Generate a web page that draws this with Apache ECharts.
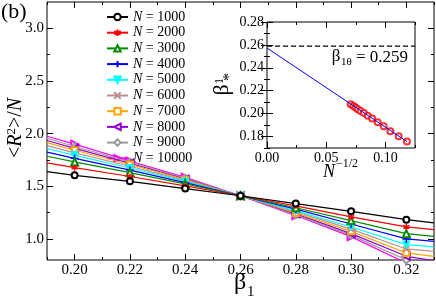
<!DOCTYPE html>
<html><head><meta charset="utf-8">
<script src="https://cdn.jsdelivr.net/npm/echarts@6/dist/echarts.min.js"></script>
<style>html,body{margin:0;padding:0;background:#fff}#c{width:436px;height:303px}</style>
</head><body><div id="c"></div>
<script>
// ---- data ----
const betaX = [0.20, 0.22, 0.24, 0.26, 0.28, 0.30, 0.32];
const seriesN = ['1000','2000','3000','4000','5000','6000','7000','8000','9000','10000'];
const v1000  = [1.604, 1.547, 1.478, 1.410, 1.336, 1.262, 1.183];
const v2000  = [1.677, 1.593, 1.504, 1.410, 1.314, 1.209, 1.114];
const v3000  = [1.731, 1.630, 1.523, 1.410, 1.296, 1.174, 1.050];
const v4000  = [1.765, 1.653, 1.535, 1.410, 1.283, 1.142, 1.000];
const v5000  = [1.794, 1.674, 1.546, 1.410, 1.267, 1.113, 0.946];
const v6000  = [1.818, 1.690, 1.554, 1.410, 1.258, 1.093, 0.905];
const v7000  = [1.842, 1.707, 1.563, 1.410, 1.247, 1.072, 0.867];
const v8000  = [1.860, 1.719, 1.569, 1.410, 1.239, 1.050, 0.835];
const v9000  = [1.878, 1.731, 1.576, 1.410, 1.229, 1.036, 0.800];
const v10000 = [1.900, 1.740, 1.585, 1.410, 1.222, 1.022, 0.770];
// extended fit-line ends at the plot edges
const fitStartX = 0.19, fitEndX = 0.33;
const fitStart = [1.639, 1.722, 1.785, 1.825, 1.859, 1.886, 1.914, 1.935, 1.956, 1.975];
const fitEnd   = [1.152, 1.088, 1.025, 0.977, 0.924, 0.882, 0.835, 0.795, 0.750, 0.710];
// inset
const insetX = [0.0706, 0.0729, 0.0748, 0.0767, 0.0790, 0.0818, 0.0851, 0.0888, 0.0935, 0.0986, 0.1042, 0.1112, 0.1182];
const insetY = [0.2082, 0.2067, 0.2053, 0.2038, 0.2023, 0.2005, 0.1982, 0.1958, 0.1925, 0.1890, 0.1846, 0.1802, 0.1756];
const fitLineX = [0.0, 0.1182];
const fitLineY = [0.2573, 0.1756];
const beta1Theta = 0.259;
// ticks
const mainXMajor = [0.20, 0.22, 0.24, 0.26, 0.28, 0.30, 0.32];
const mainXMinor = [0.19, 0.21, 0.23, 0.25, 0.27, 0.29, 0.31, 0.33];
const mainYMajor = [1.0, 1.5, 2.0, 2.5, 3.0];
const mainYMinor = [1.25, 1.75, 2.25, 2.75];
const insXMajor = [0.00, 0.05, 0.10];
const insXMinor = [0.025, 0.075, 0.125];
const insYMajor = [0.18, 0.20, 0.22, 0.24, 0.26, 0.28];
const insYMinor = [0.17, 0.19, 0.21, 0.23, 0.25, 0.27];

const allVals = [v1000, v2000, v3000, v4000, v5000, v6000, v7000, v8000, v9000, v10000];
const colors = ['#000000', '#ff0000', '#008b00', '#0000ff', '#00ffff', '#bc8f8f', '#ffa500', '#9400d3', '#999999', '#ff00ff'];
const symbols = [
  {s:'emptyCircle', r:0, sz:6},
  {s:'path://M5,0L5,10M0.67,2.5L9.33,7.5M0.67,7.5L9.33,2.5', r:0, sz:6, stroke:true},
  {s:'emptyTriangle', r:0, sz:7},
  {s:'path://M5,0L5,10M0,5L10,5', r:0, sz:8, stroke:true},
  {s:'triangle', r:180, sz:7},
  {s:'path://M0,0L10,10M0,10L10,0', r:0, sz:6, stroke:true},
  {s:'emptyRect', r:0, sz:6},
  {s:'emptyTriangle', r:90, sz:7},
  {s:'emptyDiamond', r:0, sz:7},
  {s:'emptyTriangle', r:-90, sz:7}
];

const FONT = '"Liberation Serif", "DejaVu Serif", serif';

function axesPair(pos, grid, min, max, major, minor, labels, fmt, labelSize) {
  const common = {type:'value', gridIndex:grid, min:min, max:max, position:pos, splitLine:{show:false},
    axisLine:{show:false}};
  const a = Object.assign({}, common, {
    axisTick:{show:true, inside:true, length:6, customValues:major, lineStyle:{color:'#000', width:1}},
    axisLabel:{show:labels, customValues:major, formatter:fmt, fontFamily:FONT, fontSize:labelSize, color:'#000', margin:3}
  });
  const b = Object.assign({}, common, {
    axisTick:{show:true, inside:true, length:3, customValues:minor, lineStyle:{color:'#000', width:1}},
    axisLabel:{show:false}
  });
  return [a, b];
}

const xAxes = [].concat(
  axesPair('bottom',0,0.19,0.33,mainXMajor,mainXMinor,true,v=>v.toFixed(2),15),
  axesPair('top',0,0.19,0.33,mainXMajor,mainXMinor,false,null,15),
  axesPair('bottom',1,0,0.125,insXMajor,insXMinor,true,v=>v.toFixed(2),14),
  axesPair('top',1,0,0.125,insXMajor,insXMinor,false,null,14)
);
const yAxes = [].concat(
  axesPair('left',0,0.8,3.25,mainYMajor,mainYMinor,true,v=>v.toFixed(1),15),
  axesPair('right',0,0.8,3.25,mainYMajor,mainYMinor,false,null,15),
  axesPair('left',1,0.17,0.28,insYMajor,insYMinor,true,v=>v.toFixed(2),14),
  axesPair('right',1,0.17,0.28,insYMajor,insYMinor,false,null,14)
);

const series = allVals.map((vals, i) => {
  const sy = symbols[i];
  const data = [{value:[fitStartX, fitStart[i]], symbol:'none'}]
    .concat(betaX.map((x, j) => [x, vals[j]]))
    .concat([{value:[fitEndX, fitEnd[i]], symbol:'none'}]);
  const itemStyle = sy.stroke ? {color:colors[i], borderColor:colors[i], borderWidth:1.4}
                              : {color:colors[i], borderColor:colors[i], borderWidth:1.1};
  return {
    name:'N = ' + seriesN[i], type:'line', xAxisIndex:0, yAxisIndex:0,
    data:data, symbol:sy.s, symbolRotate:sy.r, symbolSize:sy.sz, showAllSymbol:true,
    lineStyle:{color:colors[i], width:1.2}, itemStyle:itemStyle, z:12 - i * 0.1,
    animation:false, clip:true
  };
});

series.push({
  name:'fit', type:'line', xAxisIndex:4, yAxisIndex:4, symbol:'none',
  data:fitLineX.map((x, j) => [x, fitLineY[j]]), lineStyle:{color:'#0000ff', width:1}, animation:false
});
series.push({
  name:'theta', type:'line', xAxisIndex:4, yAxisIndex:4, symbol:'none',
  data:[[0, beta1Theta], [0.125, beta1Theta]], lineStyle:{color:'#000', width:1.3, type:[5,3]}, animation:false
});
series.push({
  name:'beta1star', type:'scatter', xAxisIndex:4, yAxisIndex:4, symbol:'emptyCircle', symbolSize:6,
  data:insetX.map((x, j) => [x, insetY[j]]), itemStyle:{color:'#ff0000', borderColor:'#ff0000', borderWidth:1}, animation:false
});

const chart = echarts.init(document.getElementById('c'), null, {renderer:'canvas'});
chart.setOption({
  animation:false,
  backgroundColor:'#fff',
  grid:[
    {left:47, right:2, top:2, bottom:43, show:true, borderColor:'#000', borderWidth:1, backgroundColor:'transparent'},
    {left:267, top:22, width:148, height:126, show:true, borderColor:'#000', borderWidth:1, backgroundColor:'#fff'}
  ],
  xAxis:xAxes,
  yAxis:yAxes,
  legend:{
    data:seriesN.map(n => 'N = ' + n), orient:'vertical', left:106, top:10,
    itemWidth:21, itemHeight:8, itemGap:1.7, padding:0,
    formatter: name => '{i|N} = ' + name.split('= ')[1],
    textStyle:{fontFamily:FONT, fontSize:14, color:'#000', lineHeight:12,
      rich:{i:{fontStyle:'italic', fontFamily:FONT, fontSize:14, lineHeight:12}}}
  },
  graphic:[
    {type:'text', left:1, top:1, style:{text:'(b)', font:'22px ' + FONT, fill:'#000'}},
    {type:'text', x:16, y:128, rotation:Math.PI/2, style:{text:'<{i|R}{s|2}>/{i|N}', fontFamily:FONT, fontSize:20, fill:'#000', align:'center', verticalAlign:'middle',
      rich:{i:{fontStyle:'italic', fontFamily:FONT, fontSize:20}, s:{fontFamily:FONT, fontSize:13, verticalAlign:'top', padding:[0,0,8,0]}}}},
    {type:'text', x:240, y:283, style:{text:'β', font:'24px ' + FONT, fill:'#000', align:'center', verticalAlign:'middle'}},
    {type:'text', x:247, y:292, style:{text:'1', font:'15px ' + FONT, fill:'#000', align:'left', verticalAlign:'middle'}},
    {type:'text', x:329, y:172, style:{text:'N', font:'italic 18px ' + FONT, fill:'#000', align:'center', verticalAlign:'middle'}},
    {type:'text', x:336, y:164, style:{text:'−1/2', font:'12px ' + FONT, fill:'#000', align:'left', verticalAlign:'middle'}},
    {type:'text', x:336, y:57, style:{text:'β', font:'17px ' + FONT, fill:'#000', align:'center', verticalAlign:'middle'}},
    {type:'text', x:341, y:62, style:{text:'1θ', font:'11px ' + FONT, fill:'#000', align:'left', verticalAlign:'middle'}},
    {type:'text', x:356, y:58, style:{text:'= 0.259', font:'17px ' + FONT, fill:'#000', align:'left', verticalAlign:'middle'}},
    {type:'group', x:222.5, y:90, rotation:Math.PI/2, children:[
      {type:'text', x:0, y:0, style:{text:'β', font:'22px ' + FONT, fill:'#000', align:'center', verticalAlign:'middle'}},
      {type:'text', x:6, y:-3, style:{text:'1', font:'12px ' + FONT, fill:'#000', align:'left', verticalAlign:'middle'}},
      {type:'text', x:9, y:7, style:{text:'*', font:'16px ' + FONT, fill:'#000', align:'left', verticalAlign:'middle'}}
    ]}
  ],
  series:series
});
</script></body></html>
